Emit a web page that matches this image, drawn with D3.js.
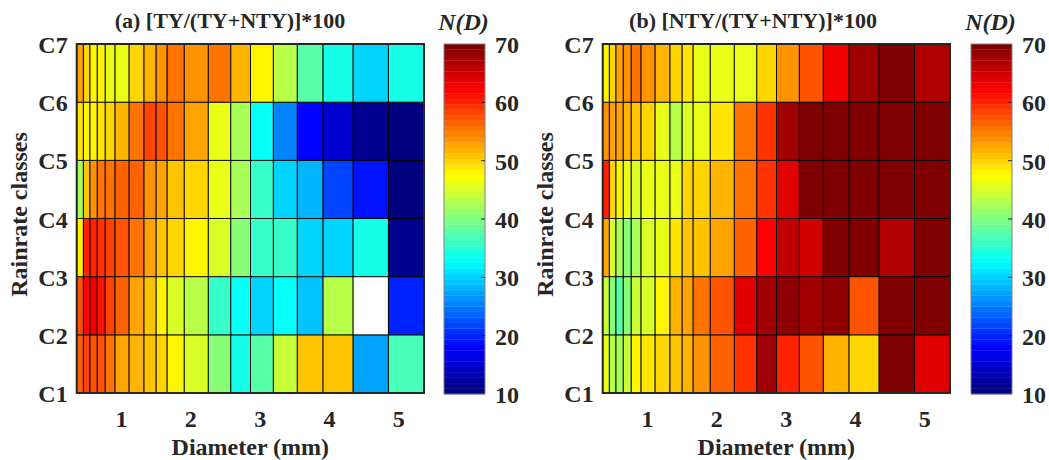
<!DOCTYPE html>
<html>
<head>
<meta charset="utf-8">
<script src="https://cdn.jsdelivr.net/npm/d3@7"></script>
<style>
body { margin: 0; background: #fff; }
svg text { font-family: "Liberation Serif", "Times New Roman", serif; font-weight: bold; fill: #262626; }
</style>
</head>
<body>
<svg id="chart" width="1049" height="460"></svg>
<script>
// pcolor vertices: disdrometer class centres (mm)
var diameterEdges = [0.359, 0.455, 0.551, 0.656, 0.771, 0.913, 1.116, 1.331, 1.506, 1.665,
  1.912, 2.259, 2.584, 2.869, 3.198, 3.544, 3.916, 4.350, 4.859, 5.373];
var rainClasses = ["C1", "C2", "C3", "C4", "C5", "C6", "C7"];
var diameterTicks = [1, 2, 3, 4, 5];
var colorTicks = [10, 20, 30, 40, 50, 60, 70];

// rows from C1-C2 (bottom) to C6-C7 (top)
var tyShare = [
  [56, 58.5, 57.5, 57, 55, 52.5, 52, 51, 49.5, 47.5, 45, 40, 33.5, 38, 44, 50.5, 50.5, 27, 37],
  [57.5, 62, 62.5, 61, 58.5, 56, 53, 51, 47.5, 45, 43, 36, 32.5, 30.5, 33, 29.5, 43, null, 20],
  [48, 59.7, 60, 59, 58.5, 57, 55, 53, 51, 50, 48, 45, 40, 36, 36, 30, 30, 33.5, 11],
  [42, 50.5, 53.5, 55, 55.7, 56, 56, 54, 52.5, 51, 50, 46.5, 42, 36.2, 30.5, 28.7, 22, 18.5, 10],
  [48.5, 48, 48, 48.5, 50, 51.5, 55.7, 58, 57, 55.7, 53, 46.5, 42, 32.5, 25, 18, 14.8, 11, 10.5],
  [53, 50, 48, 48, 46.5, 46, 50, 52, 54, 55.5, 54, 55, 52, 48, 43, 38, 33.5, 30.5, 33.5]
];
var ntyShare = [
  [46, 43, 42, 44, 47.5, 48.5, 50, 51, 52, 54, 56, 59.5, 68, 60.5, 57, 51.5, 50, 70, 64],
  [44, 40, 38, 40, 44, 45, 47.5, 52, 53, 55, 57.5, 64, 68, 69, 68, 69, 57.5, 70, 70],
  [53, 45, 42, 40, 42, 45, 46, 49, 50.5, 51, 53, 56, 62, 66, 65, 70, 70, 67, 70],
  [60.5, 50, 48, 46, 45, 46, 46, 46.5, 50, 49.5, 52, 55, 59.5, 63.5, 70, 70, 70, 70, 70],
  [54, 53, 53, 52, 51, 49.5, 46, 43, 45, 46, 48.5, 55, 59.5, 68, 70, 70, 70, 70, 70],
  [48, 50, 53, 54, 55, 54, 52, 49.5, 48.5, 46, 46.5, 46.5, 49.5, 53.5, 57.5, 62.5, 68, 70, 67]
];

var svg = d3.select("#chart"),
  plotTop = 44,
  plotW = 347.3,
  plotH = 349,
  nColors = 64;

function jet(i) {
  var t = i / (nColors - 1),
    c = v => Math.max(0, Math.min(1, v));
  return d3.rgb(255 * c(1.5 - Math.abs(4 * t - 3)),
    255 * c(1.5 - Math.abs(4 * t - 2)),
    255 * c(1.5 - Math.abs(4 * t - 1))).toString();
}

var colorIndex = d3.scaleQuantize().domain([10, 70]).range(d3.range(nColors));

function drawPanel(x0, data, title, titleX, ylabelX) {
  var g = svg.append("g").attr("transform", "translate(" + x0 + "," + plotTop + ")");

  var x = d3.scaleLinear()
    .domain([diameterEdges[0], diameterEdges[diameterEdges.length - 1]])
    .range([0, plotW]);

  var y = d3.scaleLinear()
    .domain([1, 7])
    .range([plotH, 0]);

  var cells = [];
  data.forEach((row, r) => row.forEach((v, c) => cells.push({ r: r, c: c, v: v })));

  g.selectAll("rect.cell")
    .data(cells)
    .enter().append("rect")
    .attr("class", "cell")
    .attr("x", d => x(diameterEdges[d.c]))
    .attr("width", d => x(diameterEdges[d.c + 1]) - x(diameterEdges[d.c]))
    .attr("y", d => y(d.r + 2))
    .attr("height", d => y(d.r + 1) - y(d.r + 2))
    .attr("fill", d => d.v == null ? "#fff" : jet(colorIndex(d.v)))
    .attr("stroke", "#000")
    .attr("stroke-width", 0.9);

  g.append("rect")
    .attr("width", plotW)
    .attr("height", plotH)
    .attr("fill", "none")
    .attr("stroke", "#262626")
    .attr("stroke-width", 2);

  var xa = g.append("g")
    .attr("transform", "translate(0," + plotH + ")")
    .call(d3.axisBottom(x).tickValues(diameterTicks).tickSize(0).tickFormat(d3.format("d")));
  xa.select(".domain").remove();
  xa.selectAll("text").attr("y", 34).attr("dy", 0).style("font-size", "24px");

  var ya = g.append("g")
    .call(d3.axisLeft(y).tickValues(d3.range(1, 8)).tickSize(0).tickPadding(9).tickFormat(d => rainClasses[d - 1]));
  ya.select(".domain").remove();
  ya.selectAll("text").attr("dy", "0.36em").style("font-size", "24px");

  svg.append("text")
    .attr("x", x0 + plotW / 2)
    .attr("y", 455)
    .attr("text-anchor", "middle")
    .style("font-size", "24px")
    .text("Diameter (mm)");

  svg.append("text")
    .attr("transform", "translate(" + ylabelX + "," + (plotTop + plotH / 2 - 4) + ") rotate(-90)")
    .attr("text-anchor", "middle")
    .style("font-size", "24px")
    .text("Rainrate classes");

  svg.append("text")
    .attr("x", titleX)
    .attr("y", 28)
    .attr("text-anchor", "middle")
    .style("font-size", "22px")
    .text(title);
}

function drawColorbar(x0) {
  var cbW = 41;
  var cy = d3.scaleLinear()
    .domain([10, 70])
    .range([plotTop + plotH + 1, plotTop]);

  var step = 60 / nColors;
  svg.append("g").selectAll("rect")
    .data(d3.range(nColors))
    .enter().append("rect")
    .attr("x", x0)
    .attr("width", cbW)
    .attr("y", d => cy(10 + (d + 1) * step))
    .attr("height", d => cy(10 + d * step) - cy(10 + (d + 1) * step) + 0.3)
    .attr("fill", d => jet(d));

  svg.append("rect")
    .attr("x", x0)
    .attr("y", plotTop)
    .attr("width", cbW)
    .attr("height", plotH + 1)
    .attr("fill", "none")
    .attr("stroke", "#808080")
    .attr("stroke-width", 1);

  svg.append("g").selectAll("line")
    .data(colorTicks.slice(1, -1))
    .enter().append("line")
    .attr("x1", x0 + cbW - 4)
    .attr("x2", x0 + cbW)
    .attr("y1", d => cy(d))
    .attr("y2", d => cy(d))
    .attr("stroke", "#262626");

  svg.append("g").selectAll("text")
    .data(colorTicks)
    .enter().append("text")
    .attr("x", x0 + cbW + 10)
    .attr("y", d => cy(d) + 9)
    .style("font-size", "24px")
    .text(d => d);

  svg.append("text")
    .attr("x", x0 + cbW / 2 - 1)
    .attr("y", 30)
    .attr("text-anchor", "middle")
    .style("font-size", "24px")
    .style("font-style", "italic")
    .text("N(D)");
}

drawPanel(76.7, tyShare, "(a) [TY/(TY+NTY)]*100", 230, 27);
drawColorbar(444);
drawPanel(602.7, ntyShare, "(b) [NTY/(TY+NTY)]*100", 753, 553);
drawColorbar(971);
</script>
</body>
</html>
